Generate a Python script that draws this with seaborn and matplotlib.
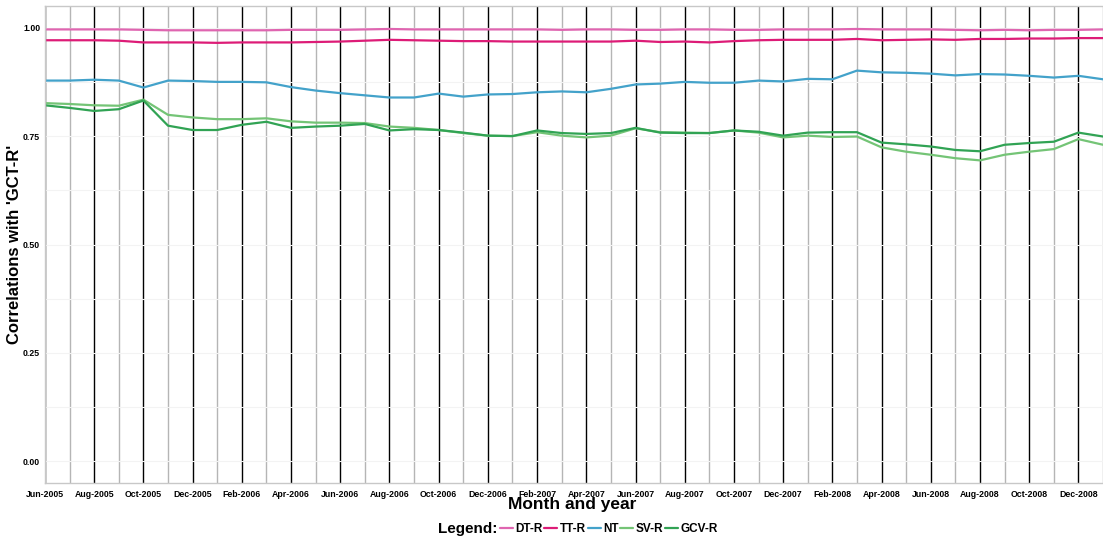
import pandas as pd
import numpy as np
import matplotlib.pyplot as plt
import seaborn as sns

# months Jun-2005 .. Jan-2009
months = pd.date_range("2005-06-01", "2009-01-01", freq="MS").strftime("%b-%Y").tolist()

dt_r = [0.996, 0.996, 0.996, 0.996, 0.995, 0.994, 0.994, 0.994, 0.994, 0.994, 0.995,
        0.995, 0.995, 0.996, 0.997, 0.996, 0.996, 0.996, 0.996, 0.996, 0.996, 0.995,
        0.996, 0.996, 0.995, 0.995, 0.996, 0.996, 0.995, 0.995, 0.996, 0.996, 0.996,
        0.997, 0.996, 0.996, 0.996, 0.995, 0.994, 0.995, 0.994, 0.995, 0.995, 0.996]
tt_r = [0.971, 0.971, 0.971, 0.970, 0.966, 0.966, 0.966, 0.965, 0.966, 0.966, 0.966,
        0.967, 0.968, 0.970, 0.972, 0.971, 0.970, 0.969, 0.969, 0.968, 0.968, 0.968,
        0.968, 0.968, 0.970, 0.967, 0.968, 0.966, 0.969, 0.971, 0.972, 0.972, 0.972,
        0.974, 0.971, 0.972, 0.973, 0.972, 0.974, 0.974, 0.975, 0.975, 0.976, 0.976]
nt = [0.878, 0.878, 0.880, 0.878, 0.862, 0.878, 0.877, 0.875, 0.875, 0.874, 0.863,
      0.855, 0.849, 0.844, 0.839, 0.839, 0.848, 0.841, 0.846, 0.847, 0.851, 0.853,
      0.851, 0.859, 0.869, 0.871, 0.875, 0.873, 0.873, 0.878, 0.876, 0.882, 0.881,
      0.901, 0.897, 0.896, 0.894, 0.890, 0.893, 0.892, 0.889, 0.885, 0.889, 0.881]
sv_r = [0.826, 0.824, 0.821, 0.820, 0.834, 0.799, 0.793, 0.789, 0.789, 0.791, 0.784,
        0.781, 0.781, 0.780, 0.772, 0.769, 0.764, 0.757, 0.751, 0.750, 0.759, 0.751,
        0.747, 0.751, 0.768, 0.759, 0.758, 0.757, 0.763, 0.758, 0.747, 0.751, 0.748,
        0.749, 0.724, 0.714, 0.707, 0.699, 0.694, 0.707, 0.714, 0.720, 0.743, 0.730]
gcv_r = [0.821, 0.815, 0.808, 0.812, 0.832, 0.774, 0.764, 0.764, 0.776, 0.783, 0.769,
         0.772, 0.774, 0.778, 0.763, 0.766, 0.764, 0.758, 0.751, 0.750, 0.763, 0.757,
         0.755, 0.757, 0.769, 0.758, 0.757, 0.757, 0.763, 0.760, 0.751, 0.758, 0.759,
         0.759, 0.735, 0.731, 0.726, 0.718, 0.715, 0.730, 0.734, 0.737, 0.758, 0.749]

series = {"DT-R": dt_r, "TT-R": tt_r, "NT": nt, "SV-R": sv_r, "GCV-R": gcv_r}
colors = {"DT-R": "#df65b0", "TT-R": "#dd1c77", "NT": "#43a2ca",
          "SV-R": "#74c476", "GCV-R": "#31a354"}

df = pd.concat([
    pd.DataFrame({"month": np.arange(len(months)), "value": vals, "measure": name})
    for name, vals in series.items()
], ignore_index=True)

sns.set_style("white")
plt.rcParams['font.family'] = ['Liberation Sans', 'DejaVu Sans']
plt.rcParams['font.weight'] = 'bold'
plt.rcParams['text.color'] = 'black'
plt.rcParams['xtick.color'] = 'black'
plt.rcParams['ytick.color'] = 'black'

W, H = 1103, 540
fig = plt.figure(figsize=(W / 100, H / 100), dpi=100)
ax = fig.add_axes([45 / W, 1 - 483 / H, 1 - 45 / W, (483 - 6) / H])

sns.lineplot(data=df, x="month", y="value", hue="measure", hue_order=list(series),
             palette=colors, linewidth=1.6, ax=ax, sort=False)

n = len(months)
ax.set_xlim(0, n - 1)
ax.set_ylim(-0.05, 1.05)
ax.set_xticks(np.arange(0, n, 2))
ax.set_xticks(np.arange(1, n, 2), minor=True)
ax.set_xticklabels(months[::2], fontsize=6.3, fontweight='bold')
ax.set_yticks([0, 0.25, 0.5, 0.75, 1.0])
ax.set_yticks([0.125, 0.375, 0.625, 0.875], minor=True)
ax.set_yticklabels(["0.00", "0.25", "0.50", "0.75", "1.00"], fontsize=6.3, fontweight='bold')

ax.set_axisbelow(True)
ax.grid(which='major', axis='x', color='black', linewidth=1.0)
ax.grid(which='minor', axis='x', color='#b5b5b5', linewidth=1.0)
ax.grid(which='both', axis='y', color='#f3f3f3', linewidth=0.8)

ax.tick_params(axis='x', which='major', length=3, width=0.8, color='#333333', pad=2)
ax.tick_params(axis='x', which='minor', length=0)
ax.tick_params(axis='y', which='major', length=2.5, width=0.8, color='#333333', pad=1)
ax.tick_params(axis='y', which='minor', length=0)

for side in ['left', 'bottom', 'top']:
    ax.spines[side].set_color('#c8c8c8')
    ax.spines[side].set_linewidth(1.0)
ax.spines['right'].set_visible(False)

ax.set_xlabel("")
ax.set_ylabel("")
fig.text(572 / W, 1 - 497 / H, "Month and year", fontsize=12.5, fontweight='bold',
         ha='center', va='top')
fig.text(15 / W, 1 - 244 / H, "Correlations with 'GCT-R'", fontsize=12,
         fontweight='bold', rotation=90, ha='center', va='center')

handles, labels = ax.get_legend_handles_labels()
ax.get_legend().remove()
fig.text(438 / W, 1 - 529 / H, "Legend:", fontsize=11, fontweight='bold',
         ha='left', va='center')
fig.legend(handles, labels, loc='center left', bbox_to_anchor=(500 / W, 1 - 529 / H),
           ncol=5, frameon=False, handlelength=1.1, handletextpad=0.2,
           columnspacing=0.15, borderpad=0, borderaxespad=0,
           prop={'weight': 'bold', 'size': 8.5})

fig.savefig("out.png", dpi=100)
